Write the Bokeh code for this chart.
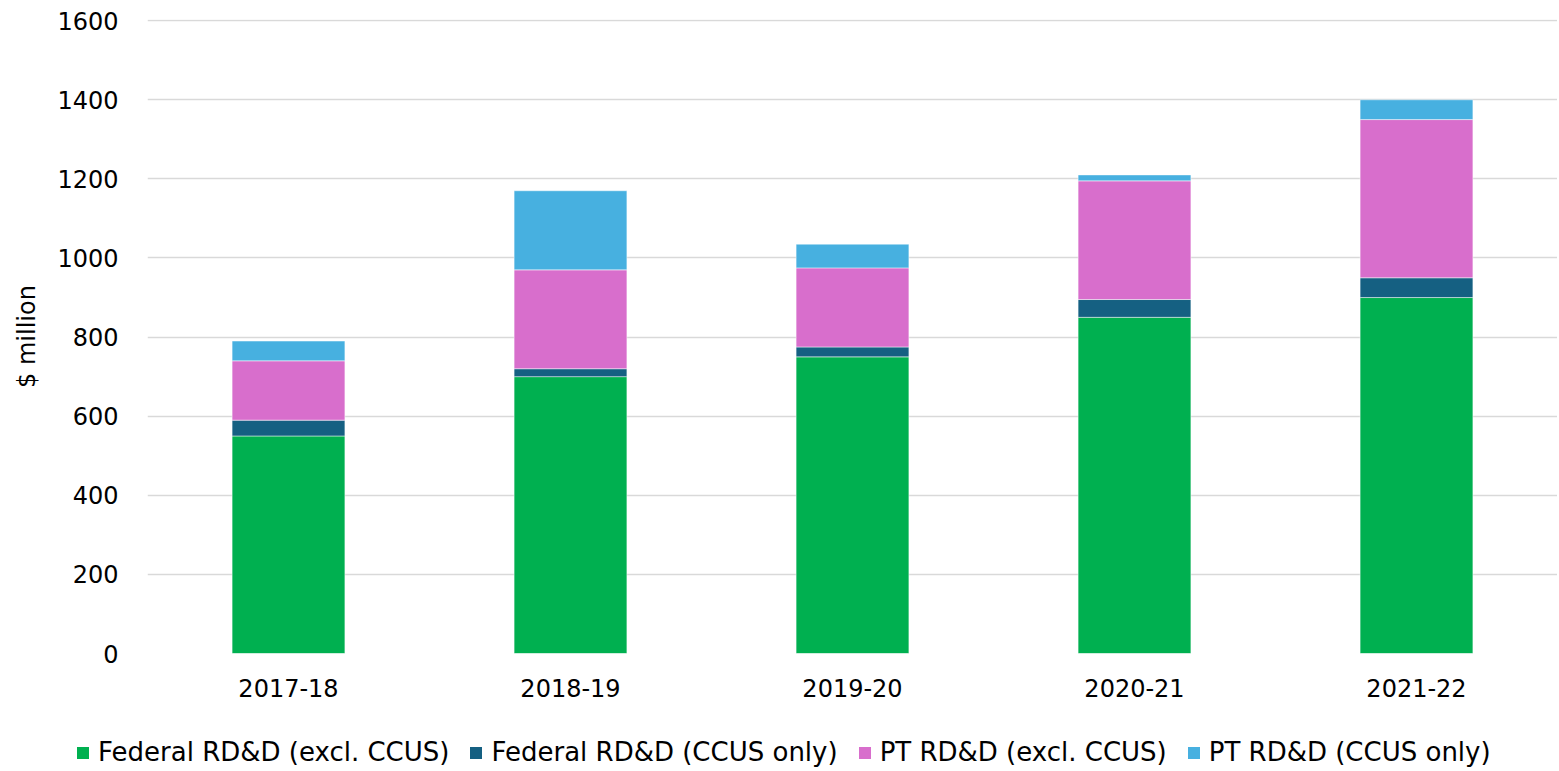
from bokeh.plotting import figure
from bokeh.layouts import column
from bokeh.models import ColumnDataSource, FactorRange, Range1d, Legend, SingleIntervalTicker
from bokeh.embed import file_html
from bokeh.resources import INLINE

years = ["2017-18", "2018-19", "2019-20", "2020-21", "2021-22"]
federal_excl = [550, 700, 750, 850, 900]
federal_ccus = [40, 20, 25, 45, 50]
pt_excl = [150, 250, 200, 300, 400]
pt_ccus = [50, 200, 60, 15, 50]

series = ["federal_excl", "federal_ccus", "pt_excl", "pt_ccus"]
labels = ["Federal RD&D (excl. CCUS)", "Federal RD&D (CCUS only)",
          "PT RD&D (excl. CCUS)", "PT RD&D (CCUS only)"]
colors = ["#00B050", "#156082", "#D86ECC", "#47B0E0"]

src = ColumnDataSource(dict(years=years, federal_excl=federal_excl, federal_ccus=federal_ccus,
                            pt_excl=pt_excl, pt_ccus=pt_ccus))

FONT = "DejaVu Sans"

# ---- main chart ----
p = figure(x_range=FactorRange(*years, range_padding=0), y_range=Range1d(0, 1603),
           frame_width=1410, frame_height=634, output_backend="svg", toolbar_location=None,
           min_border_left=147, min_border_top=19, min_border_right=0, min_border_bottom=80)
p.frame_align = False

p.vbar_stack(series, x="years", width=0.4, source=src, color=colors,
             line_color="white", line_width=0.8, line_alpha=0.6)

p.outline_line_color = None
p.xgrid.grid_line_color = None
p.ygrid.grid_line_color = "#d9d9d9"
p.ygrid.grid_line_width = 1.5
p.yaxis.ticker = SingleIntervalTicker(interval=200)

for ax in (p.xaxis[0], p.yaxis[0]):
    ax.axis_line_color = None
    ax.major_tick_line_color = None
    ax.minor_tick_line_color = None
    ax.major_label_text_font = FONT
    ax.major_label_text_font_size = "24px"
    ax.major_label_text_color = "#000000"

p.yaxis.major_label_standoff = 23
p.xaxis.major_label_standoff = 19
p.yaxis.axis_label = "$ million"
p.yaxis.axis_label_text_font = FONT
p.yaxis.axis_label_text_font_style = "normal"
p.yaxis.axis_label_text_font_size = "24px"
p.yaxis.axis_label_text_color = "#000000"
p.yaxis.axis_label_standoff = 13

# ---- legend strip (its bars lie outside its view; only the legend shows) ----
lp = figure(x_range=FactorRange(*years), y_range=Range1d(5000, 5001),
            width=1557, height=38, output_backend="svg", toolbar_location=None,
            x_axis_location=None, y_axis_location=None,
            min_border_left=0, min_border_right=0, min_border_top=0, min_border_bottom=0)
lp.frame_align = False
lp.outline_line_color = None
lp.grid.grid_line_color = None
lrs = lp.vbar_stack(series, x="years", width=0.4, source=src, color=colors, line_color=None)

legend = Legend(items=[(labels[i], [lrs[i]]) for i in range(4)], orientation="horizontal",
                location=(75, 4), border_line_color=None, background_fill_alpha=0,
                label_text_font=FONT, label_text_font_size="26px", label_text_color="#000000",
                glyph_width=15, glyph_height=15, label_standoff=8, spacing=19,
                padding=0, margin=0)
lp.add_layout(legend, "center")

layout = column(p, lp, spacing=0)
open("out.html", "w").write(file_html(layout, INLINE))
